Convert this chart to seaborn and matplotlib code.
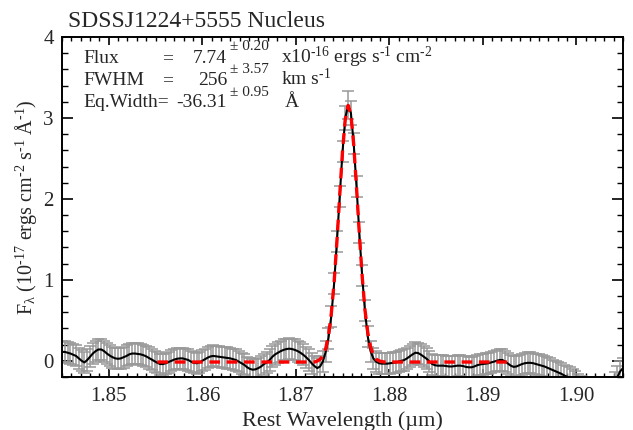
import numpy as np
import pandas as pd
import seaborn as sns
import matplotlib
matplotlib.use('Agg')
from matplotlib import pyplot as plt
from matplotlib.ticker import MultipleLocator

# spectrum sampling (uniform grid of the spectrograph)
WAVE_START = 1.8450
WAVE_STEP = 0.0003
N_PIX = 201

flux = [0.11, 0.11, 0.10, 0.09, 0.075, 0.06, 0.03, 0.0, -0.02, 0.01,
        0.05, 0.09, 0.12, 0.14, 0.14, 0.12, 0.09, 0.065, 0.045, 0.03,
        0.025, 0.03, 0.045, 0.06, 0.08, 0.09, 0.09, 0.085, 0.08, 0.07,
        0.055, 0.035, 0.015, -0.005, -0.025, -0.04, -0.04, -0.03, -0.015, 0.0,
        0.015, 0.025, 0.03, 0.03, 0.02, 0.01, -0.01, -0.025, -0.03, -0.02,
        0.0, 0.02, 0.04, 0.055, 0.06, 0.055, 0.05, 0.045, 0.04, 0.035,
        0.03, 0.02, 0.01, -0.01, -0.03, -0.05, -0.08, -0.10, -0.11, -0.105,
        -0.09, -0.07, -0.04, -0.02, 0.01, 0.05, 0.08, 0.10, 0.12, 0.135,
        0.145, 0.15, 0.145, 0.135, 0.12, 0.10, 0.075, 0.045, 0.01, -0.03,
        -0.065, -0.09, -0.07, -0.01, 0.11, 0.28, 0.55, 0.95, 1.47, 2.03,
        2.58, 3.00, 3.16, 3.06, 2.68, 2.15, 1.58, 1.05, 0.62, 0.30,
        0.12, 0.03, -0.01, -0.03, -0.035, -0.035, -0.035, -0.03, -0.025, -0.02,
        -0.01, 0.0, 0.01, 0.03, 0.055, 0.08, 0.10, 0.095, 0.075, 0.05,
        0.025, -0.01, -0.04, -0.055, -0.06, -0.06, -0.06, -0.065, -0.07, -0.07,
        -0.065, -0.06, -0.06, -0.065, -0.075, -0.08, -0.08, -0.07, -0.055, -0.045,
        -0.04, -0.035, -0.03, -0.02, -0.01, 0.0, 0.01, 0.01, -0.01, -0.035,
        -0.06, -0.075, -0.07, -0.055, -0.04, -0.03, -0.025, -0.025, -0.03, -0.04,
        -0.05, -0.06, -0.07, -0.085, -0.10, -0.115, -0.13, -0.145, -0.16, -0.18,
        -0.195, -0.21, -0.23, -0.26, -0.29, -0.32, -0.35, -0.38, -0.41, -0.43,
        -0.44, -0.44, -0.43, -0.42, -0.40, -0.37, -0.33, -0.27, -0.20, -0.13,
        -0.09]

flux_err = [0.13] * 101 + [0.15, 0.17, 0.15] + [0.13] * 97

# gaussian + continuum fit, drawn only over the fitted window
FIT_START = 34
fit_model = ([-0.015] * 57
             + [-0.003, 0.017, 0.06, 0.15, 0.31, 0.58, 0.965, 1.47, 2.04, 2.585,
                2.99, 3.155, 3.04, 2.67, 2.14, 1.57, 1.05, 0.635, 0.35, 0.17,
                0.07, 0.02, 0.0, -0.01]
             + [-0.015] * 46)

title = 'SDSSJ1224+5555 Nucleus'
fit_names = ['Flux', 'FWHM', 'Eq.Width=']
fit_values = ['7.74', '256', '-36.31']
fit_errors = ['± 0.20', '± 3.57', '± 0.95']
fit_units = [r'x10$^{\mathrm{‐16}}$ ergs s$^{\mathrm{‐1}}$ cm$^{\mathrm{‐2}}$', r'km s$^{\mathrm{‐1}}$', 'Å']

wave = np.round(WAVE_START + WAVE_STEP * np.arange(N_PIX), 4)
df = pd.DataFrame({'wave': wave, 'flux': flux, 'err': flux_err})
fit_df = pd.DataFrame({'wave': wave[FIT_START:FIT_START + len(fit_model)], 'model': fit_model})

sns.set_style('ticks')
plt.rcParams['font.family'] = ['Liberation Serif', 'DejaVu Serif']
plt.rcParams['mathtext.fontset'] = 'custom'
plt.rcParams['mathtext.rm'] = 'Liberation Serif'
plt.rcParams['mathtext.it'] = 'Liberation Serif'
plt.rcParams['mathtext.default'] = 'regular'

fig = plt.figure(figsize=(6.33, 4.30), dpi=100)
ax = fig.add_axes([62 / 633, 1 - 377 / 430, (623 - 62) / 633, (377 - 37) / 430])


def fx(px):
    return px / 633


def fy(py):
    return 1 - py / 430


ax.errorbar(df['wave'], df['flux'], yerr=df['err'], fmt='none', ecolor='#999999',
            elinewidth=1.1, capsize=4, capthick=1.1, zorder=2)
sns.lineplot(data=df, x='wave', y='flux', color='black', lw=1.5, estimator=None,
             errorbar=None, ax=ax, zorder=3)
sns.lineplot(data=fit_df, x='wave', y='model', color='red', lw=2.4, estimator=None,
             errorbar=None, linestyle=(0, (3.2, 2.0)), ax=ax, zorder=4)

ax.set_xlim(1.845, 1.905)
ax.set_ylim(-0.2, 4.0)
ax.xaxis.set_major_locator(MultipleLocator(0.01))
ax.xaxis.set_minor_locator(MultipleLocator(0.001))
ax.yaxis.set_major_locator(MultipleLocator(1))
ax.yaxis.set_minor_locator(MultipleLocator(0.2))
ax.set_xticks([1.85, 1.86, 1.87, 1.88, 1.89, 1.90])
ax.set_xticklabels(['1.85', '1.86', '1.87', '1.88', '1.89', '1.90'])
ax.set_yticks([0, 1, 2, 3, 4])
ax.set_yticklabels(['0', '1', '2', '3', '4'])

ax.tick_params(axis='both', which='both', direction='in', top=True, right=True,
               color='black', labelsize=15)
ax.tick_params(axis='x', which='major', length=6, width=1.2, pad=7)
ax.tick_params(axis='x', which='minor', length=3, width=1.0)
ax.tick_params(axis='y', which='major', length=8, width=1.2, pad=6)
ax.tick_params(axis='y', which='minor', length=4, width=1.0)
for sp in ax.spines.values():
    sp.set_linewidth(1.4)
    sp.set_color('black')

ax.set_xlabel('Rest Wavelength (µm)', fontsize=16, labelpad=4)
ax.set_ylabel(r'F$_{\lambda}$ (10$^{\mathrm{‐17}}$ ergs cm$^{\mathrm{‐2}}$ s$^{\mathrm{‐1}}$ Å$^{\mathrm{‐1}}$)',
              fontsize=14.5, labelpad=3)

fig.text(fx(68), fy(27), title, fontsize=17, va='baseline', ha='left')

rows_main = [63, 85, 107]
rows_sup = [50, 73, 96]
unit_x = [281, 281, 285]
for k in range(3):
    fig.text(fx(83), fy(rows_main[k]), fit_names[k], fontsize=14, va='baseline')
    if k < 2:
        fig.text(fx(162), fy(rows_main[k]), '=', fontsize=14, va='baseline')
    fig.text(fx(227), fy(rows_main[k]), fit_values[k], fontsize=14, va='baseline', ha='right')
    fig.text(fx(230), fy(rows_sup[k]), fit_errors[k], fontsize=11, va='baseline')
    fig.text(fx(unit_x[k]), fy(rows_main[k]), fit_units[k], fontsize=14, va='baseline')

fig.savefig('out.png', dpi=100)
